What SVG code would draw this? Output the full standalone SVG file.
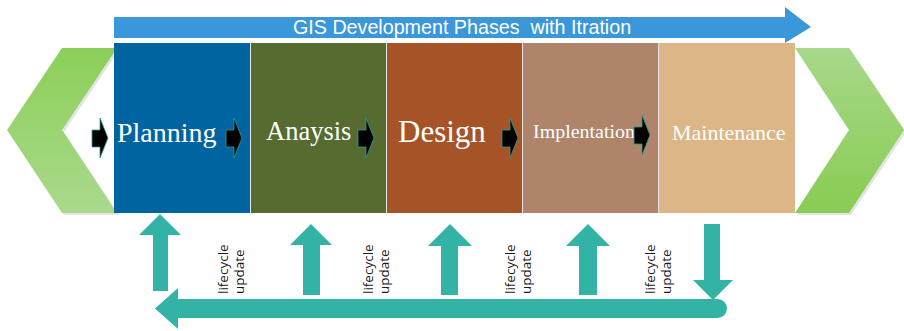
<svg xmlns="http://www.w3.org/2000/svg" width="904" height="331" viewBox="0 0 904 331">
  <style>
    .phase { fill: #ffffff; font-family: "Liberation Serif", "Times New Roman", serif; }
    .title { fill: #ffffff; font-family: "Liberation Sans", Arial, sans-serif; font-size: 19.7px; }
    .lbl { fill: #1a1a1a; font-family: "Open Sans", "Noto Sans", sans-serif; font-size: 13.5px; }
    .teal { fill: #33b3a5; }
    .blk { fill: #000000; stroke: #2a9e92; stroke-width: 0.8; }
    .sep { stroke: #e6e6e6; stroke-width: 1; }
  </style>
  <defs>
    <linearGradient id="gL" x1="0" y1="0" x2="0" y2="1">
      <stop offset="0" stop-color="#8bcf58"/>
      <stop offset="1" stop-color="#aad98d"/>
    </linearGradient>
    <linearGradient id="gR" x1="0" y1="0" x2="0" y2="1">
      <stop offset="0" stop-color="#a8d88a"/>
      <stop offset="1" stop-color="#88cc52"/>
    </linearGradient>
    <path id="blkArrow" d="M0,12 H8 V0 L16,20 L8,40 V29 H0 Z"/>
  </defs>

  <rect width="904" height="331" fill="#ffffff"/>

  <!-- Title arrow -->
  <g id="title-arrow">
    <path d="M114,17 H785 V7 L811,27 L785,43 V38 H114 Z" fill="#3a97d9"/>
    <text class="title" x="293" y="34" xml:space="preserve">GIS Development Phases  with Itration</text>
  </g>

  <!-- Chevrons -->
  <g id="chevron-left">
    <polygon points="64,50 119,50 64,132 119,215 64,215 9,132" fill="#d0d0d0" opacity="0.6"/>
    <polygon points="62,48 117,48 62,130 117,213 62,213 7,130" fill="url(#gL)"/>
  </g>
  <g id="chevron-right">
    <polygon points="797,50 851,50 906,132 851,215 797,215 852,132" fill="#d0d0d0" opacity="0.6"/>
    <polygon points="795,48 849,48 904,130 849,213 795,213 849,130" fill="url(#gR)"/>
  </g>

  <!-- Phase boxes -->
  <g id="planning">
    <rect x="114" y="43" width="137" height="170" fill="#0064a1"/>
    <text class="phase" x="117" y="142" font-size="28">Planning</text>
  </g>
  <g id="analysis">
    <rect x="251" y="43" width="136" height="170" fill="#566b30"/>
    <text class="phase" x="266" y="140" font-size="26.5">Anaysis</text>
  </g>
  <g id="design">
    <rect x="387" y="43" width="136" height="170" fill="#a65427"/>
    <text class="phase" x="398" y="142" font-size="31">Design</text>
  </g>
  <g id="implentation">
    <rect x="523" y="43" width="136" height="170" fill="#b0846a"/>
    <text class="phase" x="533" y="138" font-size="19" textLength="102" lengthAdjust="spacingAndGlyphs">Implentation</text>
  </g>
  <g id="maintenance">
    <rect x="659" y="43" width="136" height="170" fill="#dcb686"/>
    <text class="phase" x="672" y="140" font-size="22">Maintenance</text>
  </g>
  <g id="separators">
    <line class="sep" x1="250.5" y1="43" x2="250.5" y2="213"/>
    <line class="sep" x1="386.5" y1="43" x2="386.5" y2="213"/>
    <line class="sep" x1="522.5" y1="43" x2="522.5" y2="213"/>
    <line class="sep" x1="658.5" y1="43" x2="658.5" y2="213"/>
  </g>

  <!-- connectors -->
  <g id="connectors">
    <use href="#blkArrow" class="blk" transform="translate(92,118)"/>
    <use href="#blkArrow" class="blk" transform="translate(226,118)"/>
    <use href="#blkArrow" class="blk" transform="translate(358,118)"/>
    <use href="#blkArrow" class="blk" transform="translate(502,118)"/>
    <use href="#blkArrow" class="blk" transform="translate(634,115)"/>

    <!-- feedback loop -->
    <path class="teal" d="M178,299 H717.5 A9.5,9.5 0 0 1 717.5,318 H178 V329 L155,308.5 L178,288 Z"/>
    <path class="teal" d="M160,214 L181,235 H168 V291 H153 V235 H139 Z"/>
    <path class="teal" d="M311,224 L332,245 H320 V295 H303 V245 H290 Z"/>
    <path class="teal" d="M450,224 L472,246 H458 V295 H441 V246 H428 Z"/>
    <path class="teal" d="M588,224 L610,246 H597 V295 H579 V246 H566 Z"/>
    <path class="teal" d="M704,224 H720 V280 H733 L713,300 L693,280 H704 Z"/>
  </g>

  <!-- labels -->
  <g id="labels">
    <text class="lbl" transform="translate(228,294) rotate(-90)">lifecycle</text>
    <text class="lbl" transform="translate(244,294) rotate(-90)">update</text>
    <text class="lbl" transform="translate(373,294) rotate(-90)">lifecycle</text>
    <text class="lbl" transform="translate(389,294) rotate(-90)">update</text>
    <text class="lbl" transform="translate(515,294) rotate(-90)">lifecycle</text>
    <text class="lbl" transform="translate(531,294) rotate(-90)">update</text>
    <text class="lbl" transform="translate(655,294) rotate(-90)">lifecycle</text>
    <text class="lbl" transform="translate(671,294) rotate(-90)">update</text>
  </g>
</svg>
